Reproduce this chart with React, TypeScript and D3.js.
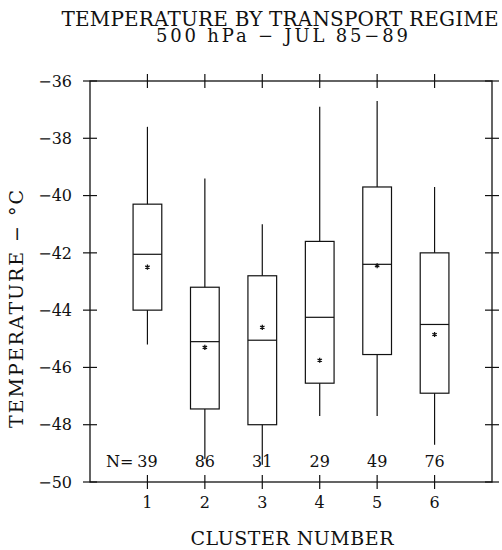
import React from 'react';
import * as d3 from 'd3';

const clusters = [1, 2, 3, 4, 5, 6];
const whiskerHigh = [-37.6, -39.4, -41.0, -36.9, -36.7, -39.7];
const q3 = [-40.3, -43.2, -42.8, -41.6, -39.7, -42.0];
const median = [-42.05, -45.1, -45.05, -44.25, -42.4, -44.5];
const mean = [-42.5, -45.3, -44.6, -45.75, -42.45, -44.85];
const q1 = [-44.0, -47.45, -48.0, -46.55, -45.55, -46.9];
const whiskerLow = [-45.2, -49.2, -49.4, -47.7, -47.7, -48.7];
const counts = [39, 86, 31, 29, 49, 76];
const yTicks = [-36, -38, -40, -42, -44, -46, -48, -50];

const W = 502;
const H = 550;
const left = 90;
const right = 492;
const top = 81;
const bottom = 482;
const font = '"DejaVu Serif", serif';
const ink = '#111';

const App = () => {
  const x = d3.scaleLinear().domain([0, 7]).range([left, right]);
  const y = d3.scaleLinear().domain([-50, -36]).range([bottom, top]);
  const boxW = x(0.5) - x(0);
  const star = d3.symbol(d3.symbolAsterisk, 18)();
  const fmt = d3.format('d');

  const boxes = clusters.map((c, i) => ({
    c, hi: whiskerHigh[i], q3: q3[i], med: median[i], mean: mean[i],
    q1: q1[i], lo: whiskerLow[i], n: counts[i],
  }));

  return (
    <svg width={W} height={H} style={{ position: 'absolute', left: 0, top: 0, background: '#fff' }}>
      <g fontFamily={font} fill={ink}>
        <text x={280} y={25.5} fontSize={20} textAnchor="middle" textLength={437} lengthAdjust="spacing">
          TEMPERATURE BY TRANSPORT REGIME
        </text>
        <text x={282} y={41.5} fontSize={18} textAnchor="middle" textLength={252} lengthAdjust="spacing">
          500 hPa − JUL 85−89
        </text>
      </g>

      {/* frame */}
      <rect x={left} y={top} width={right - left} height={bottom - top} fill="none" stroke={ink} strokeWidth={1.3} />

      {/* x ticks top and bottom */}
      {clusters.map(c => (
        <g key={'xt' + c} stroke={ink} strokeWidth={1.2}>
          <line x1={x(c)} x2={x(c)} y1={top - 7} y2={top + 7} />
          <line x1={x(c)} x2={x(c)} y1={bottom - 7} y2={bottom + 7} />
        </g>
      ))}
      {/* y ticks left and right */}
      {yTicks.map(t => (
        <g key={'yt' + t} stroke={ink} strokeWidth={1.2}>
          <line x1={left - 7} x2={left + 7} y1={y(t)} y2={y(t)} />
          <line x1={right - 7} x2={right + 7} y1={y(t)} y2={y(t)} />
        </g>
      ))}

      <g fontFamily={font} fill={ink} fontSize={16}>
        {yTicks.map(t => (
          <text key={'yl' + t} x={72} y={y(t)} dy="0.36em" textAnchor="end">
            {fmt(t).replace('-', '−')}
          </text>
        ))}
        {clusters.map(c => (
          <text key={'xl' + c} x={x(c)} y={508} textAnchor="middle">{c}</text>
        ))}
      </g>

      {/* boxes */}
      {boxes.map(b => (
        <g key={'b' + b.c} stroke={ink} strokeWidth={1.2} fill="none">
          <line x1={x(b.c)} x2={x(b.c)} y1={y(b.hi)} y2={y(b.q3)} />
          <line x1={x(b.c)} x2={x(b.c)} y1={y(b.q1)} y2={y(b.lo)} />
          <rect x={x(b.c) - boxW / 2} y={y(b.q3)} width={boxW} height={y(b.q1) - y(b.q3)} />
          <line x1={x(b.c) - boxW / 2} x2={x(b.c) + boxW / 2} y1={y(b.med)} y2={y(b.med)} />
          <path d={star} transform={`translate(${x(b.c)},${y(b.mean)})`} strokeWidth={1.3} />
        </g>
      ))}

      {/* counts */}
      <g fontFamily={font} fill={ink} fontSize={16}>
        <text x={106} y={467}>N=</text>
        {boxes.map(b => (
          <text key={'n' + b.c} x={x(b.c)} y={467} textAnchor="middle">{b.n}</text>
        ))}
      </g>

      <g fontFamily={font} fill={ink} fontSize={19}>
        <text x={292} y={545} textAnchor="middle" textLength={203} lengthAdjust="spacing">
          CLUSTER NUMBER
        </text>
        <text transform="translate(23,309) rotate(-90)" textAnchor="middle" textLength={238} lengthAdjust="spacing">
          TEMPERATURE − °C
        </text>
      </g>
    </svg>
  );
};

export default App;
